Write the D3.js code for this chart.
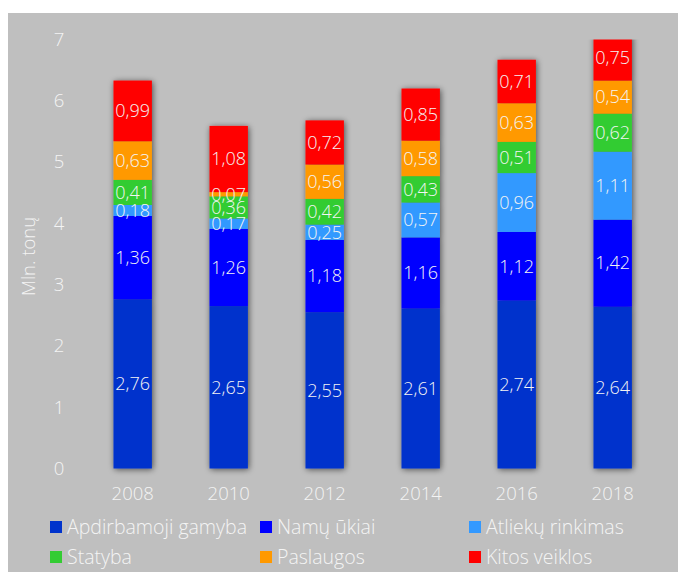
<!DOCTYPE html>
<html>
<head>
<meta charset="utf-8">
<script src="https://cdn.jsdelivr.net/npm/d3@7"></script>
<style>
  html, body { margin: 0; padding: 0; background: #ffffff; }
  svg { display: block; }
  text { font-family: "Open Sans", Lato, sans-serif; }
</style>
</head>
<body>
<script>
// Atliekų susidarymas pagal veiklas, mln. tonų
const years = ["2008", "2010", "2012", "2014", "2016", "2018"];
const seriesNames = ["Apdirbamoji gamyba", "Namų ūkiai", "Atliekų rinkimas", "Statyba", "Paslaugos", "Kitos veiklos"];
const seriesColors = ["#0033CC", "#0000FF", "#3399FF", "#33CC33", "#FF9900", "#FF0000"];
const apdirbamoji = [2.76, 2.65, 2.55, 2.61, 2.74, 2.64];
const namuUkiai   = [1.36, 1.26, 1.18, 1.16, 1.12, 1.42];
const atliekuRink = [0.18, 0.17, 0.25, 0.57, 0.96, 1.11];
const statyba     = [0.41, 0.36, 0.42, 0.43, 0.51, 0.62];
const paslaugos   = [0.63, 0.07, 0.56, 0.58, 0.63, 0.54];
const kitos       = [0.99, 1.08, 0.72, 0.85, 0.71, 0.75];
const yTicks = [0, 1, 2, 3, 4, 5, 6, 7];
const yTitle = "Mln. tonų";

const seriesValues = [apdirbamoji, namuUkiai, atliekuRink, statyba, paslaugos, kitos];
const rows = years.map((y, i) => {
  const r = { year: y };
  seriesNames.forEach((n, k) => { r[n] = seriesValues[k][i]; });
  return r;
});

const W = 678, H = 572;
const svg = d3.select("body").append("svg").attr("width", W).attr("height", H);

// chart panel
svg.append("rect").attr("x", 8).attr("y", 13).attr("width", W - 8).attr("height", H - 13)
  .attr("fill", "#BFBFBF");

const x = d3.scaleBand().domain(years).range([84.7, 660.7]).paddingInner(0.6).paddingOuter(0.3);
const y = d3.scaleLinear().domain([0, 7]).range([468.5, 39.5]);

const defs = svg.append("defs");
const f = defs.append("filter").attr("id", "shadow")
  .attr("x", "-30%").attr("y", "-10%").attr("width", "160%").attr("height", "120%");
f.append("feGaussianBlur").attr("in", "SourceAlpha").attr("stdDeviation", 3).attr("result", "blur");
f.append("feOffset").attr("in", "blur").attr("dx", 1).attr("dy", 1).attr("result", "off");
f.append("feComponentTransfer").attr("in", "off").attr("result", "sh")
  .append("feFuncA").attr("type", "linear").attr("slope", 0.6);
const merge = f.append("feMerge");
merge.append("feMergeNode").attr("in", "sh");
merge.append("feMergeNode").attr("in", "SourceGraphic");

// bars are cut at the top of the value axis
defs.append("clipPath").attr("id", "plotClip").append("rect")
  .attr("x", 0).attr("y", y(7)).attr("width", W).attr("height", H - y(7));

const stack = d3.stack().keys(seriesNames)(rows);

const textColor = "#F4F4F4";

// y axis labels
const yAxis = svg.append("g").attr("transform", "translate(67,0)")
  .call(d3.axisLeft(y).tickValues(yTicks).tickSize(0).tickPadding(0).tickFormat(d3.format("d")));
yAxis.select(".domain").remove();
yAxis.selectAll("text").attr("fill", textColor).attr("font-size", 18.5).attr("font-weight", 300)
  .attr("text-anchor", "middle").attr("dx", -8);

// x axis labels
const xAxis = svg.append("g").attr("transform", `translate(0,${y(0)})`)
  .call(d3.axisBottom(x).tickSize(0).tickPadding(18));
xAxis.select(".domain").remove();
xAxis.selectAll("text").attr("fill", textColor).attr("font-size", 18.5).attr("font-weight", 300);

// y axis title
svg.append("text")
  .attr("transform", `translate(35,${y(3.46)}) rotate(-90)`)
  .attr("text-anchor", "middle").attr("fill", textColor)
  .attr("font-size", 18.5).attr("font-weight", 300).text(yTitle);

// bars with shadow
const barsG = svg.append("g").attr("clip-path", "url(#plotClip)");
barsG.selectAll("g.col").data(years).join("g").attr("class", "col")
  .attr("filter", "url(#shadow)")
  .each(function (yr, i) {
    d3.select(this).selectAll("rect").data(stack.map(s => s[i])).join("rect")
      .attr("x", x(yr)).attr("width", x.bandwidth())
      .attr("y", d => y(d[1])).attr("height", d => y(d[0]) - y(d[1]))
      .attr("fill", (d, k) => seriesColors[k]);
  });

// value labels
const fmt = v => d3.format(".2f")(v).replace(".", ",");
stack.forEach((s) => {
  svg.append("g").selectAll("text").data(s).join("text")
    .attr("x", d => x(d.data.year) + x.bandwidth() / 2)
    .attr("y", d => (y(d[0]) + y(d[1])) / 2)
    .attr("dy", "0.35em")
    .attr("text-anchor", "middle")
    .attr("fill", textColor).attr("font-size", 18).attr("font-weight", 300)
    .text(d => fmt(d[1] - d[0]));
});

// legend
const legendPos = [[50, 527], [260, 527], [469, 527], [50, 557], [260, 557], [469, 557]];
const legend = svg.append("g");
seriesNames.forEach((n, k) => {
  const [lx, ly] = legendPos[k];
  legend.append("rect").attr("x", lx).attr("y", ly - 6).attr("width", 12).attr("height", 12)
    .attr("fill", seriesColors[k]);
  legend.append("text").attr("x", lx + 17).attr("y", ly).attr("dy", "0.35em")
    .attr("fill", textColor).attr("font-size", 19.5).attr("font-weight", 300).text(n);
});
</script>
</body>
</html>
